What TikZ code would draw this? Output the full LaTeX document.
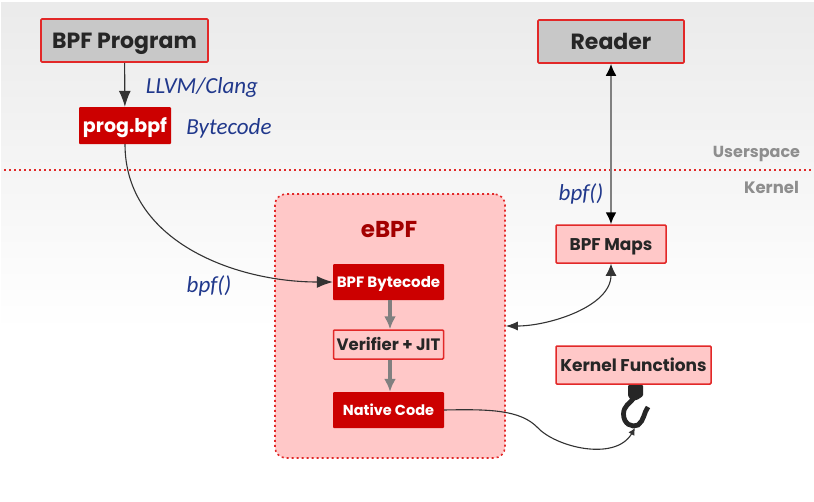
\documentclass[tikz,border=0pt]{standalone}
\usepackage{fontspec}
\setmainfont{Poppins}
\newfontfamily\notefont{Carlito}
\usepackage{tikz}
\usetikzlibrary{calc, positioning, arrows.meta}
\definecolor{boxred}{RGB}{204,0,0}
\definecolor{edgered}{RGB}{226,40,40}
\definecolor{palered}{RGB}{255,200,200}
\definecolor{boxgrey}{RGB}{200,200,200}
\definecolor{notegrey}{RGB}{142,142,142}
\definecolor{noteblue}{RGB}{32,56,140}
\newcommand\boxfont[1]{\fontsize{#1}{#1}\selectfont\bfseries}
\tikzset{
	sized/.style={font=\boxfont{#1}, text height=#1*0.72pt, text depth=0pt},
	userbox/.style={draw=edgered, fill=boxgrey, line width=1.6pt, rounded corners=1pt, inner sep=0pt, text=black!85},
	darkbox/.style={fill=boxred, rounded corners=1pt, inner sep=0pt, text=white},
	lightbox/.style={draw=edgered, fill=palered, line width=1.5pt, rounded corners=1pt, inner sep=0pt, text=black!85},
	note/.style={text=noteblue, font=\notefont\itshape\fontsize{23}{23}\selectfont, inner sep=0pt},
	side/.style={text=notegrey, inner sep=0pt},
	thin arrow/.style={-{Latex[length=16pt,width=12pt]}, line width=1.1pt, black!80},
	both arrow/.style={{Latex[length=12pt,width=11pt,black]}-{Latex[length=12pt,width=11pt,black]}, line width=2pt, black!50},
	flow arrow/.style={-{Latex[length=13pt,width=12pt]}, line width=4pt, black!50}
}
\begin{document}
\begin{tikzpicture}[x=1pt,y=-1pt]
\useasboundingbox (0,0) rectangle (814,501);
\fill[white] (0,0) rectangle (814,501);
\shade[top color=black!8, bottom color=white] (1,2) rectangle (814,330);

\draw[edgered, line width=1.6pt, dash pattern=on 2pt off 3pt] (4,170) -- (814,170);

\node[userbox, minimum width=167pt, minimum height=43pt, sized=22] (program) at (124.5,40.5) {BPF Program};
\node[userbox, minimum width=146pt, minimum height=43pt, sized=22] (reader) at (611,41.5) {Reader};
\node[darkbox, minimum width=92pt, minimum height=37pt, sized=19] (prog) at (125,125.5) {prog.bpf};

\node[note] (llvm) at (202,87) {LLVM/Clang};
\node[note] (bytecode) at (229,128) {Bytecode};
\node[note] (bpfleft) at (209,286) {bpf()};
\node[note] (bpfright) at (581,194) {bpf()};
\node[side, sized=16] (userspace) at (756.5,151.5) {Userspace};
\node[side, sized=16.5] (kernel) at (771.5,188) {Kernel};

% eBPF container
\node[draw=edgered, fill=palered, line width=1.6pt, dash pattern=on 2pt off 3pt, rounded corners=11pt, minimum width=230pt, minimum height=264pt] (ebpf) at (390,326) {};
\node[text=boxred!80!black, sized=23, inner sep=0pt] (ebpflabel) at (389,229) {eBPF};

\node[darkbox, minimum width=111pt, minimum height=36pt, sized=15] (bytes) at (388.5,282) {BPF Bytecode};
\node[lightbox, minimum width=110pt, minimum height=29pt, sized=16.5] (verifier) at (388.5,344.5) {Verifier + JIT};
\node[darkbox, minimum width=111pt, minimum height=36pt, sized=14.5] (native) at (388.5,410) {Native Code};

\node[lightbox, minimum width=110pt, minimum height=38pt, sized=17] (maps) at (611,244) {BPF Maps};
\node[lightbox, minimum width=155pt, minimum height=38pt, sized=17] (funcs) at (633.5,365) {Kernel Functions};

% hook under the kernel functions
\fill[black!85, rounded corners=1pt] (628,385) -- (643,385) -- (643,396) -- (637,400) -- (631,400) -- (628,396) -- cycle;
\draw[black!85, line width=4.8pt] (634,398) .. controls (630,403) and (623.5,406) .. (623.5,414) .. controls (623.5,424) and (632,428) .. (638,425) .. controls (644,421) and (644,412) .. (648,407);
\coordinate (hookend) at (635,428);

\draw[thin arrow] (program) -- (prog);
\draw[thin arrow] (prog.south) to[out=-90, in=180, looseness=1] (bytes.west);
\draw[both arrow] (reader) -- (maps);
\draw[{Latex[length=12pt,width=9pt]}-{Latex[length=12pt,width=11pt]}, line width=1.1pt, black!80] (ebpf.east) to[out=0, in=-90, looseness=0.9] (maps.south);
\draw[flow arrow] ([xshift=1.5pt]bytes.south) -- ([xshift=1.5pt]verifier.north);
\draw[flow arrow] ([xshift=1.5pt]verifier.south) -- ([xshift=1.5pt]native.north);
\draw[-{Latex[length=7pt,width=7pt]}, line width=1.1pt, black!80] (native.east) .. controls (490,409) and (520,410) .. (537,427) .. controls (555,447) and (615,462) .. (hookend);
\end{tikzpicture}
\end{document}
